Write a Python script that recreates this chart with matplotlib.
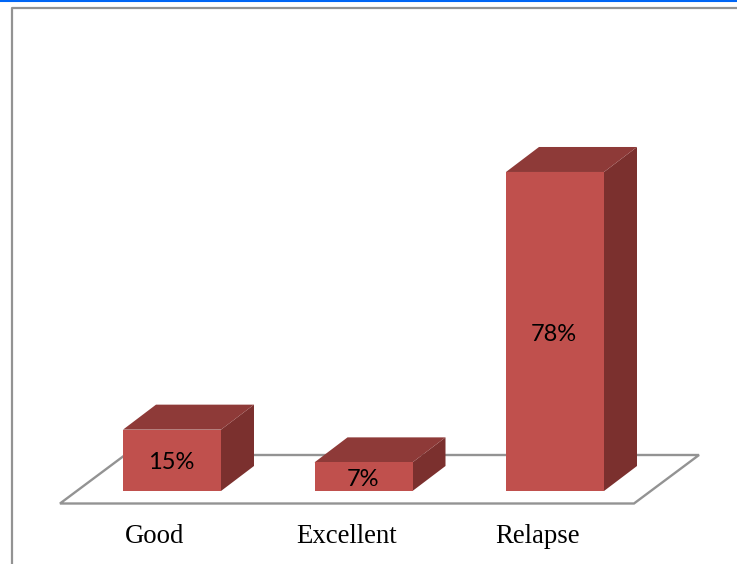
#!/usr/bin/env python
# -*- coding: utf-8 -*-
import matplotlib
matplotlib.use("Agg")
import matplotlib.pyplot as plt
from matplotlib.patches import Polygon

categories = ["Good", "Excellent", "Relapse"]
values = [15, 7, 78]
value_labels = ["15%", "7%", "78%"]

W, H = 737, 564
X_STEP = 191.5  # px between bars
Y_SCALE = 4.09  # px per percent
X0 = 172
Y0 = 491

BAR_W = 98 / X_STEP
DEPTH_X = 33 / X_STEP
DEPTH_Y = 25 / Y_SCALE

FRONT = "#c0504d"
TOP = "#8e3a38"
SIDE = "#7b302e"
GRAY = "#939393"

fig = plt.figure(figsize=(W / 100, H / 100), dpi=100)
ax = fig.add_axes([0, 0, 1, 1])
ax.set_xlim(-X0 / X_STEP, (W - X0) / X_STEP)
ax.set_ylim(-(H - Y0) / Y_SCALE, Y0 / Y_SCALE)
ax.axis("off")

# frame round the picture, in figure coordinates
frame_x = [11.5 / W, 11.5 / W, 1]
frame_y = [0, 1 - 7.5 / H, 1 - 7.5 / H]
ax.plot(frame_x, frame_y, transform=fig.transFigure, color=GRAY, lw=1.6, zorder=1)
ax.plot([0, 1], [1 - 0.7 / H, 1 - 0.7 / H], transform=fig.transFigure,
        color="#0066f5", lw=1.5, zorder=1)

# floor of the 3d chart
floor_left = -112 / X_STEP
floor_right = 462 / X_STEP
floor_low = -12.5 / Y_SCALE
floor_dx = 65 / X_STEP
floor_dy = 48.5 / Y_SCALE
ax.add_patch(Polygon([(floor_left, floor_low), (floor_right, floor_low),
                      (floor_right + floor_dx, floor_low + floor_dy),
                      (floor_left + floor_dx, floor_low + floor_dy)],
                     closed=True, fc="white", ec=GRAY, lw=1.7, zorder=2))

for i, (v, lab) in enumerate(zip(values, value_labels)):
    left = i - BAR_W / 2
    right = i + BAR_W / 2
    ax.add_patch(Polygon([(right, 0), (right + DEPTH_X, DEPTH_Y),
                          (right + DEPTH_X, v + DEPTH_Y), (right, v)],
                         closed=True, fc=SIDE, ec="none", zorder=3))
    ax.add_patch(Polygon([(left, v), (right, v),
                          (right + DEPTH_X, v + DEPTH_Y), (left + DEPTH_X, v + DEPTH_Y)],
                         closed=True, fc=TOP, ec="none", zorder=3))
    ax.bar(i, v, width=BAR_W, color=FRONT, zorder=4)
    ax.text(i - 0.005, v / 2 - 0.65, lab, ha="center", va="center", fontsize=17,
            family="Lato", color="black", zorder=5)
    ax.text(i - 0.09, -45.5 / Y_SCALE, categories[i], ha="center", va="center",
            fontsize=19.3, family="Liberation Serif", color="black", zorder=5)

fig.savefig("out.png", dpi=100)
